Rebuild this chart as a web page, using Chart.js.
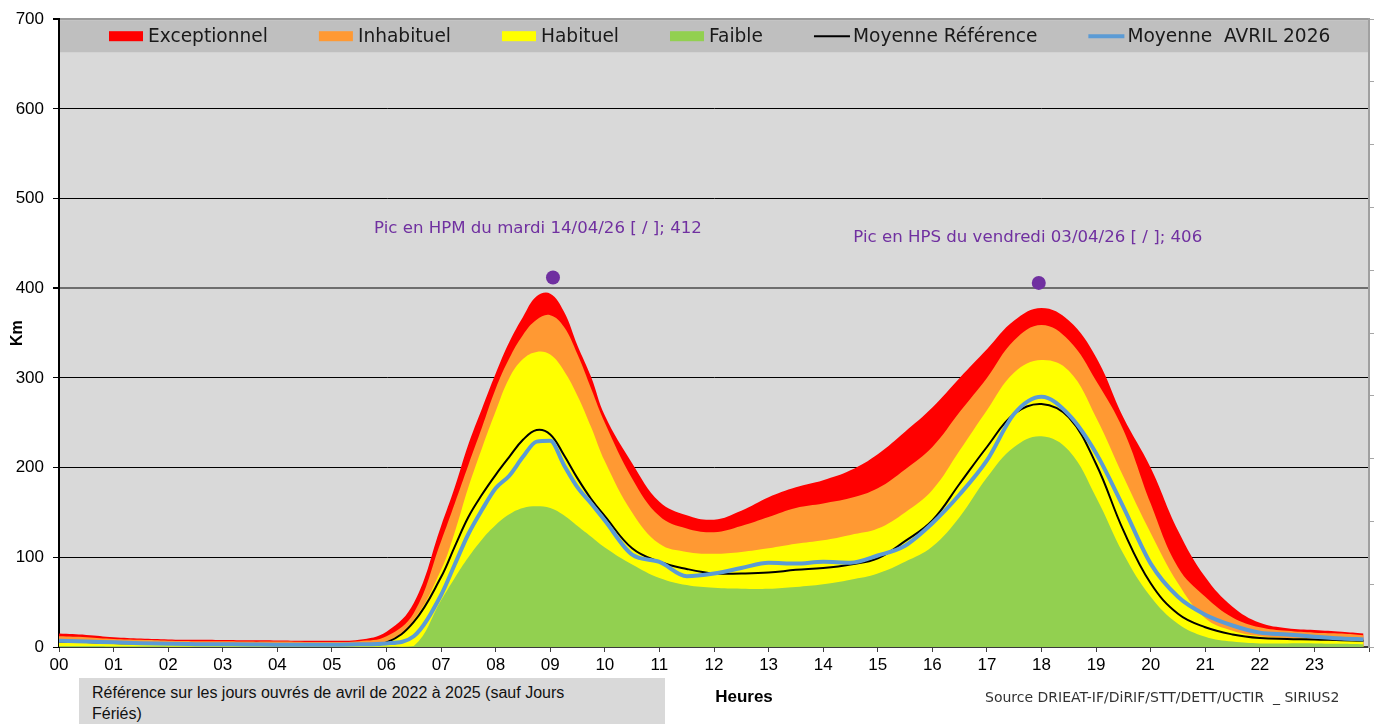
<!DOCTYPE html>
<html lang="fr">
<head>
<meta charset="utf-8">
<title>Kilomètres de bouchons - avril 2026</title>
<script src="https://cdn.jsdelivr.net/npm/chart.js@4.4.1/dist/chart.umd.min.js"></script>
<style>
  html, body { margin: 0; padding: 0; background: #fff; }
  #wrap { position: relative; width: 1376px; height: 724px; overflow: hidden; }
  #graph { position: absolute; left: 0; top: 0; }
  .note { position: absolute; left: 79px; top: 678px; width: 586px; height: 46px; box-sizing: border-box;
          padding: 4px 0 0 13px; background: #d9d9d9; color: #111;
          font: 16px "Liberation Sans", Arial, sans-serif; line-height: 21px; }
  .heures { position: absolute; left: 744px; top: 687px; transform: translateX(-50%);
            font: bold 17px "Liberation Sans", Arial, sans-serif; line-height: 20px; color: #000; }
  .source { position: absolute; left: 985px; top: 687px; white-space: pre; color: #333;
            font: 14px "DejaVu Sans", sans-serif; line-height: 20px; }
</style>
</head>
<body>
<div id="wrap">
  <canvas id="graph" width="1376" height="724"></canvas>
  <div class="note">Référence sur les jours ouvrés de avril de 2022 à 2025 (sauf Jours<br>Fériés)</div>
  <div class="heures">Heures</div>
  <div class="source">Source DRIEAT-IF/DiRIF/STT/DETT/UCTIR  _ SIRIUS2</div>
</div>
<script>
// heures (abscisse) et valeurs, en km
const heures = [0, 0.5, 1, 1.5, 2, 2.5, 3, 3.5, 4, 4.5, 5, 5.5, 6,
  6.5, 7,
  7.25, 7.5, 7.75, 8, 8.25, 8.5, 8.75, 9, 9.25, 9.5, 9.75, 10,
  10.5, 11, 11.5, 12, 12.5, 13, 13.5, 14, 14.5, 15, 15.5, 16, 16.5, 17, 17.5, 18, 18.5, 19, 19.5, 20, 20.5, 21, 21.5,
  22, 22.5, 23, 23.5, 23.9];

const exceptionnel = [15, 13.5, 11, 9.5, 8.5, 8, 7.8, 7.5, 7.3, 7, 7, 8, 17,
  49, 135,
  178, 226, 266, 305, 340, 368, 391, 394, 374, 336, 301, 258,
  205, 162, 147, 142, 152, 167, 178, 186, 197, 215, 240, 267, 300, 332, 364, 378, 364, 323, 256, 200, 130, 78, 45,
  27, 21, 19, 17, 15];

const inhabituel = [12, 11, 9, 8, 7, 6.5, 6.3, 6, 6, 5.7, 5.5, 6.5, 12,
  38, 118,
  160, 203, 245, 288, 322, 348, 365, 370, 357, 326, 288, 250,
  188, 146, 132, 128, 135, 145, 155, 160, 166, 177, 198, 223, 262, 300, 342, 359, 342, 297, 242, 160, 89, 56, 33,
  22, 18, 16, 15, 13];

const habituel = [5, 4.5, 3.5, 3, 2.5, 2.5, 2.3, 2.2, 2, 2, 2, 3, 6,
  30, 86,
  128, 178, 222, 263, 300, 321, 329, 326, 308, 280, 245, 207,
  150, 115, 106, 104, 106, 110, 115, 119, 125, 132, 150, 175, 219, 264, 306, 320, 308, 256, 190, 127, 71, 32, 18,
  12, 10, 9, 8, 7];

const faible = [1, 1, 0.8, 0.7, 0.6, 0.5, 0.5, 0.5, 0.5, 0.5, 0.5, 0.5, 0.5,
  1, 52,
  77, 100, 120, 136, 148, 155, 157, 155, 147, 135, 123, 111,
  92, 77, 69, 66, 65, 65, 67, 70, 75, 82, 95, 112, 145, 189, 223, 235, 219, 167, 104, 56, 26, 11.5, 6,
  4, 4, 4, 3.5, 3];

const moyenneReference = [6, 5.5, 4.5, 4, 3.5, 3.2, 3, 3, 3, 3, 3, 3, 5,
  28, 78,
  112, 145, 170, 192, 212, 231, 242, 237, 214, 188, 165, 146,
  110, 95, 87, 82, 82, 83, 86, 88, 92, 99, 118, 141, 182, 223, 260, 271, 256, 204, 130, 71, 37, 22, 14,
  10, 9, 8.5, 7.5, 7];

const moyenneAvril = [7, 6, 5.2, 4.2, 3.5, 3.2, 3, 2.8, 2.5, 2.5, 2.5, 3, 4,
  12, 58,
  92, 126, 153, 177, 191, 212, 229, 230, 203, 178, 160, 141,
  103, 95, 79, 82, 88, 94, 93, 95, 94, 102, 113, 138, 170, 208, 260, 279, 259, 216, 156, 93, 56, 36, 24,
  16, 14, 11.5, 9.5, 8.5];

const picHeures = [9.05, 17.95];
const picValeurs = [412, 406];
const picTextes = ['Pic en HPM du mardi 14/04/26 [ / ]; 412', 'Pic en HPS du vendredi 03/04/26 [ / ]; 406'];

const tickHeures = ['00', '01', '02', '03', '04', '05', '06', '07', '08', '09', '10', '11',
  '12', '13', '14', '15', '16', '17', '18', '19', '20', '21', '22', '23'];

const points = (serie) => heures.map((h, i) => ({ x: h, y: serie[i] }));

// fond gris de la zone de tracé
const fondZone = {
  id: 'fondZone',
  beforeDraw(chart) {
    const { ctx, chartArea: a } = chart;
    ctx.save();
    ctx.fillStyle = '#fff';
    ctx.fillRect(0, 0, chart.width, chart.height);
    ctx.fillStyle = '#d9d9d9';
    ctx.fillRect(a.left, a.top, a.right - a.left, a.bottom - a.top);
    ctx.restore();
  }
};

// légende dans le bandeau en haut de la zone de tracé
const bandeauLegende = {
  id: 'bandeauLegende',
  afterDraw(chart) {
    const { ctx, chartArea: a } = chart;
    ctx.save();
    ctx.fillStyle = '#bfbfbf';
    ctx.fillRect(a.left + 1, a.top + 1, a.right - a.left - 2, 32);
    ctx.font = '18.6px "DejaVu Sans"';
    ctx.textBaseline = 'middle';
    let x = a.left + 50;
    const y = a.top + 17;
    chart.data.datasets.forEach(ds => {
      if (!ds.label) return;
      if (ds.fill) {
        ctx.fillStyle = ds.backgroundColor;
        ctx.fillRect(x, y - 5, 34, 10);
      } else {
        ctx.strokeStyle = ds.borderColor;
        ctx.lineWidth = ds.borderWidth;
        ctx.beginPath();
        ctx.moveTo(x, y);
        ctx.lineTo(x + 36, y);
        ctx.stroke();
      }
      ctx.fillStyle = '#1a1a1a';
      ctx.fillText(ds.label, x + 39, y + 1);
      x += 39 + ctx.measureText(ds.label).width + 51;
    });
    ctx.restore();
  }
};

// étiquettes des pics
const etiquettesPics = {
  id: 'etiquettesPics',
  afterDatasetsDraw(chart) {
    const { ctx } = chart;
    const meta = chart.getDatasetMeta(6);
    const decalages = [[-15, -49], [-11, -45]];
    ctx.save();
    ctx.font = '16.6px "DejaVu Sans"';
    ctx.fillStyle = '#7030a0';
    ctx.textAlign = 'center';
    ctx.textBaseline = 'middle';
    meta.data.forEach((pt, i) => {
      ctx.fillText(picTextes[i], pt.x + decalages[i][0], pt.y + decalages[i][1]);
    });
    ctx.restore();
  }
};

const aire = (label, serie, couleur, ordre) => ({
  label: label,
  data: points(serie),
  fill: 'origin',
  backgroundColor: couleur,
  borderWidth: 0,
  pointRadius: 0,
  tension: 0.4,
  order: ordre
});

new Chart(document.getElementById('graph'), {
  type: 'line',
  data: {
    datasets: [
      aire('Exceptionnel', exceptionnel, '#ff0000', 4),
      aire('Inhabituel', inhabituel, '#ff9933', 3),
      aire('Habituel', habituel, '#ffff00', 2),
      aire('Faible', faible, '#92d050', 1),
      {
        label: 'Moyenne Référence',
        data: points(moyenneReference),
        fill: false,
        borderColor: '#000',
        borderWidth: 2,
        pointRadius: 0,
        tension: 0.4,
        order: 0
      },
      {
        label: 'Moyenne  AVRIL 2026',
        data: points(moyenneAvril),
        fill: false,
        borderColor: '#5b9bd5',
        borderWidth: 4,
        pointRadius: 0,
        cubicInterpolationMode: 'monotone',
        order: -1
      },
      {
        label: '',
        data: picHeures.map((h, i) => ({ x: h, y: picValeurs[i] })),
        showLine: false,
        fill: false,
        pointRadius: 7,
        pointBorderWidth: 0,
        pointBackgroundColor: '#7030a0',
        order: -2
      }
    ]
  },
  options: {
    responsive: false,
    devicePixelRatio: 1,
    animation: false,
    events: [],
    layout: { padding: { top: 18, left: 0, right: 0, bottom: 0 } },
    plugins: { legend: { display: false }, tooltip: { enabled: false } },
    scales: {
      x: {
        type: 'linear',
        min: 0,
        max: 24,
        afterFit(scale) { scale.height = 77; },
        ticks: {
          stepSize: 1,
          autoSkip: false,
          maxRotation: 0,
          padding: 3,
          color: '#000',
          font: { family: '"Liberation Sans", Arial', size: 17 },
          callback: (v) => tickHeures[v] || ''
        },
        grid: { drawOnChartArea: false, drawTicks: true, tickLength: 5, tickColor: '#404040' },
        border: { color: '#3a3a3a', width: 2 }
      },
      y: {
        min: 0,
        max: 700,
        afterFit(scale) { scale.width = 59; },
        ticks: {
          stepSize: 100,
          padding: 9,
          color: '#000',
          font: { family: '"Liberation Sans", Arial', size: 17 }
        },
        title: {
          display: true,
          text: 'Km',
          color: '#000',
          font: { family: '"Liberation Sans", Arial', size: 16, weight: 'bold' },
          padding: { top: 8, bottom: 0 }
        },
        grid: {
          color: (c) => c.tick.value === 0 ? 'rgba(0,0,0,0)' : c.tick.value === 700 ? '#9a9a9a' : c.tick.value === 400 ? '#6e6e6e' : '#000',
          lineWidth: (c) => (c.tick.value === 400 || c.tick.value === 700) ? 2 : 1,
          tickLength: 6,
          tickColor: '#000'
        },
        border: { color: '#000', width: 2 }
      },
      y2: {
        position: 'right',
        min: 0,
        max: 700,
        afterFit(scale) { scale.width = 5; },
        ticks: { stepSize: 70, display: false },
        grid: { drawOnChartArea: false, tickLength: 5, color: '#a6a6a6' },
        border: { color: '#a0a0a0', width: 2 }
      }
    }
  },
  plugins: [fondZone, bandeauLegende, etiquettesPics]
});
</script>
</body>
</html>
